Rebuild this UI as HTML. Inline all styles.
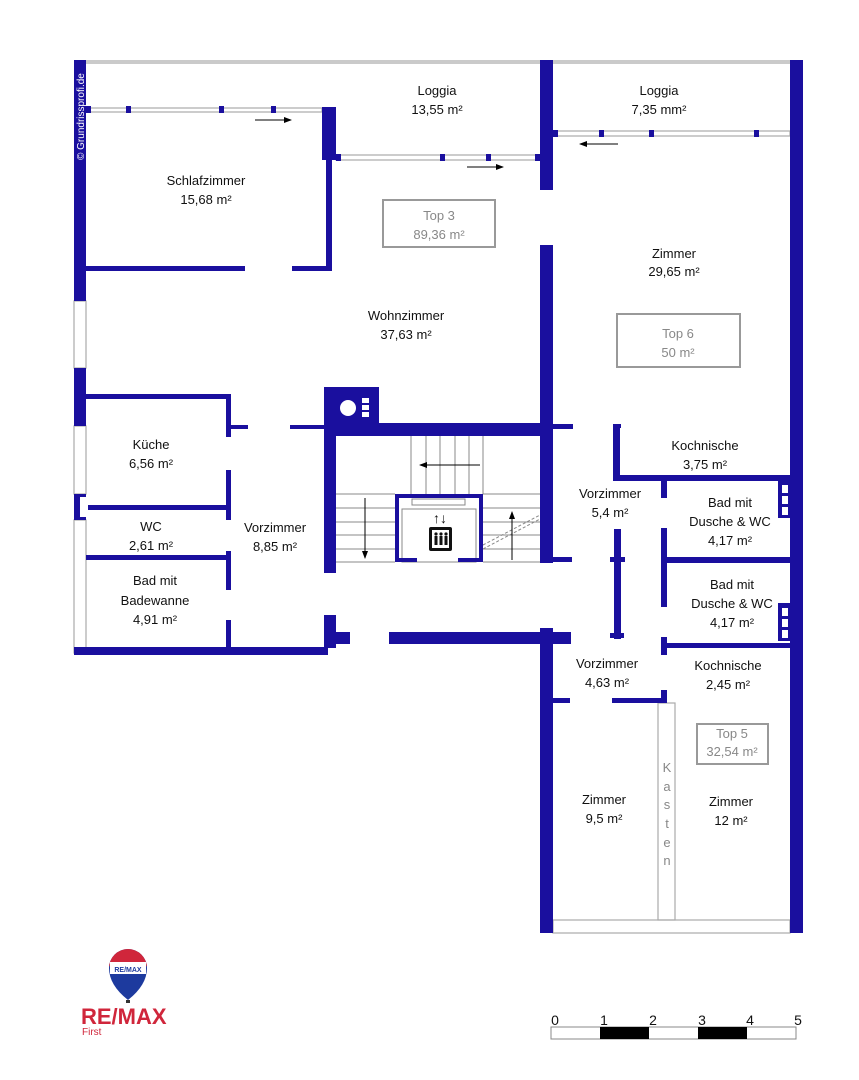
<!DOCTYPE html>
<html><head><meta charset="utf-8"><style>
html,body{margin:0;padding:0;background:#fff;}
svg{display:block}
text{font-family:"Liberation Sans",sans-serif;}
</style></head><body>
<svg width="859" height="1080" viewBox="0 0 859 1080" xmlns="http://www.w3.org/2000/svg">
<defs><marker id="ah" markerWidth="8" markerHeight="6" refX="7" refY="3" orient="auto"><path d="M0,0 L8,3 L0,6 Z" fill="#000"/></marker></defs>
<g fill="none" stroke="#aaa" stroke-width="1.2">
<line x1="74" y1="61" x2="800" y2="61"/>
<line x1="74" y1="63" x2="800" y2="63"/>
<rect x="74" y="301" width="12" height="67"/>
<rect x="74" y="426" width="12" height="68"/>
<rect x="74" y="520" width="12" height="133"/>
<rect x="86" y="108" width="236" height="4"/>
<rect x="336" y="155" width="204" height="5"/>
<rect x="553" y="131" width="237" height="5"/>
<rect x="553" y="920" width="237" height="13"/>
<rect x="658" y="703" width="17" height="217"/>
<rect x="383" y="200" width="112" height="47" stroke="#999" stroke-width="2"/>
<rect x="617" y="314" width="123" height="53" stroke="#999" stroke-width="2"/>
<rect x="697" y="724" width="71" height="40" stroke="#999" stroke-width="2"/>
</g>
<g stroke="#888" stroke-width="1">
<line x1="411" y1="436" x2="411" y2="494"/><line x1="426" y1="436" x2="426" y2="494"/><line x1="440" y1="436" x2="440" y2="494"/><line x1="455" y1="436" x2="455" y2="494"/><line x1="469" y1="436" x2="469" y2="494"/><line x1="483" y1="436" x2="483" y2="494"/>
<line x1="336" y1="494" x2="395" y2="494"/><line x1="336" y1="508" x2="395" y2="508"/><line x1="336" y1="522" x2="395" y2="522"/><line x1="336" y1="535" x2="395" y2="535"/><line x1="336" y1="549" x2="395" y2="549"/><line x1="336" y1="562" x2="395" y2="562"/>
<line x1="483" y1="494" x2="540" y2="494"/><line x1="483" y1="508" x2="540" y2="508"/><line x1="483" y1="522" x2="540" y2="522"/><line x1="483" y1="535" x2="540" y2="535"/><line x1="483" y1="549" x2="540" y2="549"/><line x1="483" y1="562" x2="540" y2="562"/>
<line x1="483" y1="545" x2="540" y2="515" stroke-dasharray="3,2"/><line x1="483" y1="549" x2="540" y2="519" stroke-dasharray="3,2"/>
<rect x="402" y="509" width="74" height="53" fill="none"/>
<rect x="412" y="499" width="53" height="6" fill="none"/>
</g>
<g fill="#1a0f9e">
<rect x="74" y="60" width="12" height="241"/>
<rect x="74" y="368" width="12" height="58"/>
<rect x="74" y="494" width="12" height="26"/>
<rect x="74" y="647" width="254" height="8"/>
<rect x="86" y="106" width="5" height="7"/><rect x="126" y="106" width="5" height="7"/><rect x="219" y="106" width="5" height="7"/><rect x="271" y="106" width="5" height="7"/>
<rect x="322" y="107" width="14" height="53"/>
<rect x="326" y="107" width="6" height="164"/>
<rect x="86" y="266" width="159" height="5"/>
<rect x="292" y="266" width="40" height="5"/>
<rect x="336" y="154" width="5" height="7"/><rect x="440" y="154" width="5" height="7"/><rect x="486" y="154" width="5" height="7"/><rect x="535" y="154" width="5" height="7"/>
<rect x="540" y="60" width="13" height="130"/>
<rect x="540" y="245" width="13" height="318"/>
<rect x="553" y="130" width="5" height="7"/><rect x="599" y="130" width="5" height="7"/><rect x="649" y="130" width="5" height="7"/><rect x="754" y="130" width="5" height="7"/>
<rect x="790" y="60" width="13" height="873"/>
<rect x="86" y="394" width="145" height="5"/>
<rect x="226" y="394" width="5" height="43"/>
<rect x="226" y="425" width="22" height="4"/>
<rect x="290" y="425" width="36" height="4"/>
<rect x="226" y="470" width="5" height="50"/>
<rect x="226" y="551" width="5" height="39"/>
<rect x="226" y="620" width="5" height="33"/>
<rect x="86" y="505" width="145" height="5"/>
<rect x="86" y="555" width="145" height="5"/>
<rect x="324" y="387" width="55" height="40"/>
<rect x="324" y="423" width="229" height="13"/>
<rect x="324" y="423" width="12" height="150"/>
<rect x="553" y="424" width="20" height="5"/>
<rect x="395" y="494" width="88" height="4"/><rect x="395" y="494" width="4" height="68"/><rect x="479" y="494" width="4" height="68"/>
<rect x="395" y="558" width="22" height="4"/><rect x="458" y="558" width="25" height="4"/>
<rect x="540" y="557" width="32" height="5"/>
<rect x="324" y="615" width="12" height="33"/><rect x="324" y="632" width="26" height="12"/>
<rect x="389" y="632" width="182" height="12"/>
<rect x="540" y="628" width="13" height="305"/>
<rect x="613" y="424" width="7" height="56"/><rect x="613" y="424" width="8" height="4"/>
<rect x="613" y="475" width="177" height="6"/>
<rect x="661" y="479" width="6" height="19"/>
<rect x="661" y="528" width="6" height="31"/>
<rect x="661" y="557" width="129" height="6"/>
<rect x="661" y="560" width="6" height="47"/>
<rect x="661" y="637" width="6" height="18"/>
<rect x="661" y="643" width="129" height="5"/>
<rect x="614" y="529" width="7" height="110"/><rect x="610" y="557" width="15" height="5"/><rect x="610" y="633" width="14" height="5"/>
<rect x="553" y="698" width="17" height="5"/><rect x="612" y="698" width="54" height="5"/><rect x="661" y="690" width="6" height="13"/>
<rect x="778" y="480" width="12" height="38"/><rect x="778" y="603" width="12" height="38"/>
<rect x="395" y="511" width="0" height="0"/>
</g>
<g fill="#fff">
<circle cx="348" cy="408" r="8"/>
<rect x="362" y="398" width="7" height="5"/><rect x="362" y="405" width="7" height="5"/><rect x="362" y="412" width="7" height="5"/>
<rect x="80" y="497" width="8" height="20"/>
<rect x="782" y="485" width="6" height="8"/><rect x="782" y="496" width="6" height="8"/><rect x="782" y="507" width="6" height="8"/>
<rect x="782" y="608" width="6" height="8"/><rect x="782" y="619" width="6" height="8"/><rect x="782" y="630" width="6" height="8"/>
</g>
<g stroke="#000" stroke-width="1" marker-end="url(#ah)">
<line x1="255" y1="120" x2="291" y2="120"/>
<line x1="467" y1="167" x2="503" y2="167"/>
<line x1="618" y1="144" x2="580" y2="144"/>
<line x1="480" y1="465" x2="420" y2="465"/>
<line x1="365" y1="498" x2="365" y2="558"/>
<line x1="512" y1="560" x2="512" y2="512"/>
</g>
<g>
<rect x="429" y="527" width="23" height="24" rx="2" fill="#111"/>
<rect x="432" y="530" width="17" height="18" fill="#fff"/>
<g fill="#111"><circle cx="436" cy="534" r="1.6"/><circle cx="441" cy="534" r="1.6"/><circle cx="446" cy="534" r="1.6"/>
<rect x="434.5" y="536" width="3" height="9"/><rect x="439.5" y="536" width="3" height="9"/><rect x="444.5" y="536" width="3" height="9"/></g>
<text x="440" y="523" font-size="14" font-weight="bold" text-anchor="middle" fill="#111">↑↓</text>
</g>
<text x="84" y="160" font-size="10" fill="#fff" transform="rotate(-90 84 160)">© Grundrissprofi.de</text>
<g font-size="13" fill="#111" text-anchor="middle">
<text x="437" y="95">Loggia</text><text x="437" y="114">13,55 m²</text>
<text x="659" y="95">Loggia</text><text x="659" y="114">7,35 mm²</text>
<text x="206" y="185">Schlafzimmer</text><text x="206" y="204">15,68 m²</text>
<text x="674" y="258">Zimmer</text><text x="674" y="276">29,65 m²</text>
<text x="406" y="320">Wohnzimmer</text><text x="406" y="339">37,63 m²</text>
<text x="151" y="449">Küche</text><text x="151" y="468">6,56 m²</text>
<text x="151" y="531">WC</text><text x="151" y="550">2,61 m²</text>
<text x="155" y="585">Bad mit</text><text x="155" y="605">Badewanne</text><text x="155" y="624">4,91 m²</text>
<text x="275" y="532">Vorzimmer</text><text x="275" y="551">8,85 m²</text>
<text x="705" y="450">Kochnische</text><text x="705" y="469">3,75 m²</text>
<text x="610" y="498">Vorzimmer</text><text x="610" y="517">5,4 m²</text>
<text x="730" y="507">Bad mit</text><text x="730" y="526">Dusche &amp; WC</text><text x="730" y="545">4,17 m²</text>
<text x="732" y="589">Bad mit</text><text x="732" y="608">Dusche &amp; WC</text><text x="732" y="627">4,17 m²</text>
<text x="607" y="668">Vorzimmer</text><text x="607" y="687">4,63 m²</text>
<text x="728" y="670">Kochnische</text><text x="728" y="689">2,45 m²</text>
<text x="604" y="804">Zimmer</text><text x="604" y="823">9,5 m²</text>
<text x="731" y="806">Zimmer</text><text x="731" y="825">12 m²</text>
</g>
<g font-size="13" fill="#888" text-anchor="middle">
<text x="439" y="220">Top 3</text><text x="439" y="239">89,36 m²</text>
<text x="678" y="338">Top 6</text><text x="678" y="357">50 m²</text>
<text x="732" y="738">Top 5</text><text x="732" y="756">32,54 m²</text>
<text x="667" y="772">K</text><text x="667" y="791">a</text><text x="667" y="809">s</text><text x="667" y="828">t</text><text x="667" y="847">e</text><text x="667" y="865">n</text>
</g>
<g>
<path d="M109,968 A19,19 0 0 1 147,968 Q147,985 128,1000 Q109,985 109,968 Z" fill="#1d3a9e"/>
<path d="M109,968 A19,19 0 0 1 147,968 L147,966 L109,966 Z" fill="#d0263b"/>
<rect x="110" y="962" width="36" height="12" fill="#fff"/>
<text x="128" y="972" font-size="7" font-weight="bold" fill="#1d3a9e" text-anchor="middle">RE/MAX</text>
<rect x="126" y="1000" width="4" height="3" fill="#333"/>
<text x="81" y="1024" font-size="22" font-weight="bold" fill="#d0263b">RE/MAX</text>
<text x="82" y="1035" font-size="10" fill="#d0263b">First</text>
</g>
<g font-size="14" fill="#111" text-anchor="middle">
<text x="555" y="1025">0</text><text x="604" y="1025">1</text><text x="653" y="1025">2</text><text x="702" y="1025">3</text><text x="750" y="1025">4</text><text x="798" y="1025">5</text>
</g>
<rect x="551" y="1027" width="245" height="12" fill="#fff" stroke="#888"/>
<rect x="600" y="1027" width="49" height="12" fill="#000"/>
<rect x="698" y="1027" width="49" height="12" fill="#000"/>
</svg>
</body></html>
